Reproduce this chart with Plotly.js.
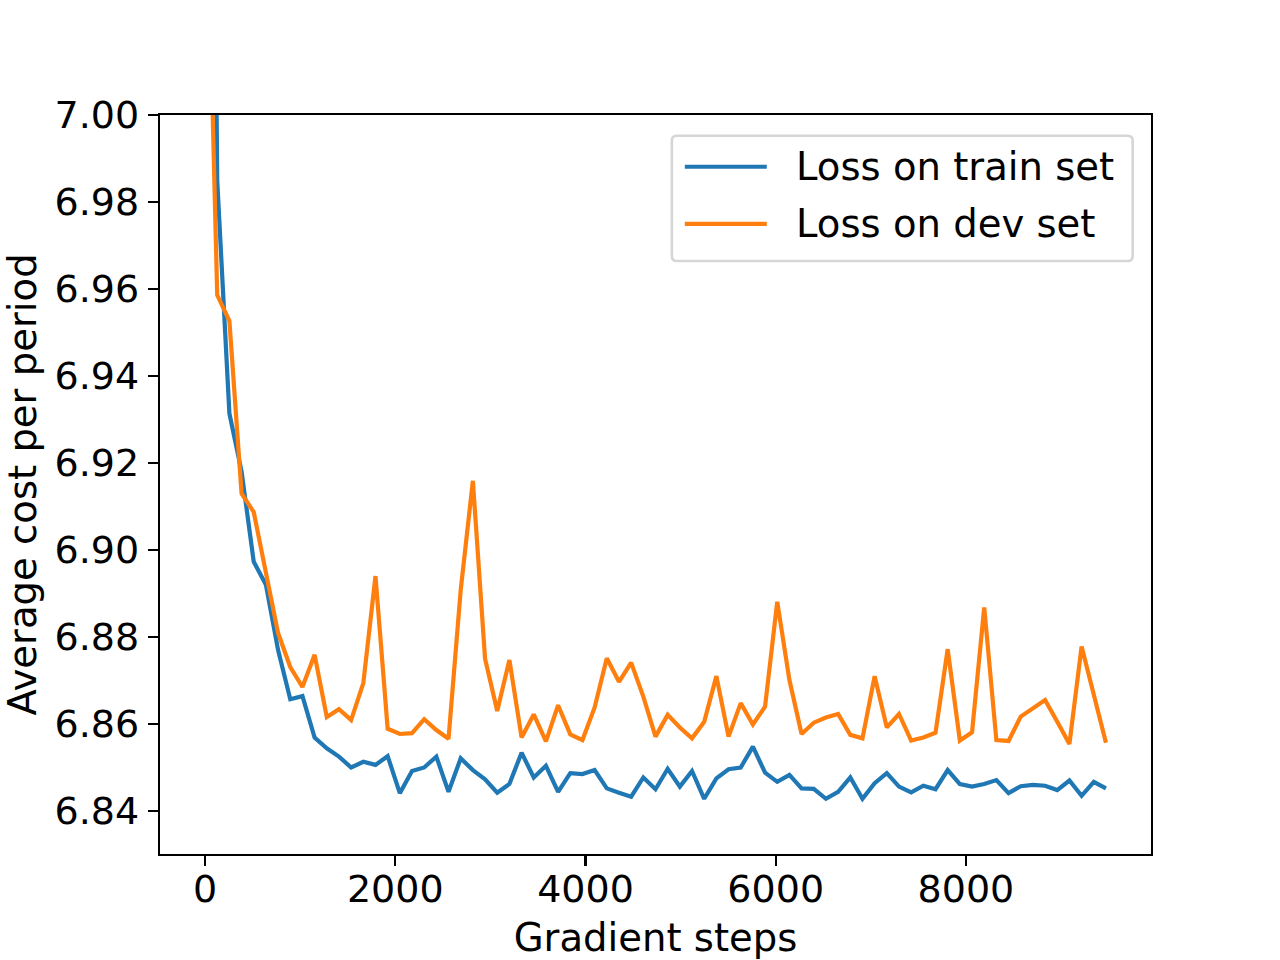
<!DOCTYPE html>
<html>
<head>
<meta charset="utf-8">
<script src="https://cdn.plot.ly/plotly-3.0.1.min.js"></script>
<style>
  html, body { margin: 0; padding: 0; background: #fff; }
  #plot { width: 1280px; height: 960px; }
</style>
</head>
<body>
<div id="plot"></div>
<script>
/* ── data: one point every 128 gradient steps ── */

const STEP_SIZE = 128;

const trainLoss = [
  7.300, 6.985, 6.9314, 6.9180, 6.8973, 6.8920, 6.8770, 6.8657, 6.8664, 6.8569,
  6.8544, 6.8525, 6.8500, 6.8513, 6.8506, 6.8526, 6.8441, 6.8492, 6.8500, 6.8525,
  6.8444, 6.8521, 6.8494, 6.8473, 6.8442, 6.8462, 6.8534, 6.8477, 6.8504, 6.8444,
  6.8487, 6.8485, 6.8494, 6.8452, 6.8442, 6.8433, 6.8477, 6.8450, 6.8497, 6.8456,
  6.8492, 6.8428, 6.8475, 6.8496, 6.8500, 6.8548, 6.8488, 6.8467, 6.8483, 6.8452,
  6.8451, 6.8428, 6.8444, 6.8477, 6.8428, 6.8464, 6.8487, 6.8456, 6.8443, 6.8458,
  6.8450, 6.8494, 6.8462, 6.8456, 6.8462, 6.8471, 6.8441, 6.8457, 6.8460, 6.8458,
  6.8448, 6.8470, 6.8435, 6.8467, 6.8452,
];

const devLoss = [
  7.070, 6.9586, 6.9527, 6.9130, 6.9087, 6.8950, 6.8809, 6.8731, 6.8685, 6.8759,
  6.8616, 6.8634, 6.8609, 6.8694, 6.8940, 6.8589, 6.8577, 6.8579, 6.8611, 6.8586,
  6.8566, 6.8908, 6.9159, 6.8750, 6.8630, 6.8747, 6.8569, 6.8622, 6.8560, 6.8643,
  6.8576, 6.8563, 6.8638, 6.8751, 6.8697, 6.8741, 6.8663, 6.8571, 6.8621, 6.8592,
  6.8567, 6.8605, 6.8710, 6.8571, 6.8648, 6.8599, 6.8640, 6.8881, 6.8701, 6.8577,
  6.8603, 6.8615, 6.8623, 6.8575, 6.8567, 6.8710, 6.8592, 6.8623, 6.8562, 6.8569,
  6.8580, 6.8772, 6.8562, 6.8581, 6.8868, 6.8563, 6.8561, 6.8617, 6.8636, 6.8655,
  6.8605, 6.8554, 6.8778, 6.8667, 6.8557,
];

const seriesNames = ['Loss on train set', 'Loss on dev set'];
const xTickVals = [0, 2000, 4000, 6000, 8000];
const yTickVals = [6.84, 6.86, 6.88, 6.90, 6.92, 6.94, 6.96, 6.98, 7.00];

const steps = trainLoss.map((_, i) => i * STEP_SIZE);

/* ── style ── */

const BLUE   = '#1f77b4';
const ORANGE = '#ff7f0e';
const FONT   = { family: 'DejaVu Sans, sans-serif', size: 38, color: '#000' };
const BIG    = { ...FONT, size: 38.6 };

const traces = [
  {
    x: steps, y: trainLoss, mode: 'lines', name: seriesNames[0],
    line: { color: BLUE, width: 4.2 },
  },
  {
    x: steps, y: devLoss, mode: 'lines', name: seriesNames[1],
    line: { color: ORANGE, width: 4.2 },
  },
];

const axisCommon = {
  showline: true,
  linecolor: '#000',
  linewidth: 2.2,
  mirror: true,
  showgrid: false,
  zeroline: false,
  ticks: 'outside',
  ticklen: 10,
  tickwidth: 2.2,
  tickcolor: '#000',
  tickfont: FONT,
};

/* ── hand-made legend, matplotlib style (rounded grey box) ── */

const LG = { x0: 0.5165, x1: 0.9815, y0: 0.8024, y1: 0.972, rx: 0.005, ry: 0.0068 };
const legendPath = [
  `M${LG.x0 + LG.rx},${LG.y1}`,
  `L${LG.x1 - LG.rx},${LG.y1}`,
  `Q${LG.x1},${LG.y1} ${LG.x1},${LG.y1 - LG.ry}`,
  `L${LG.x1},${LG.y0 + LG.ry}`,
  `Q${LG.x1},${LG.y0} ${LG.x1 - LG.rx},${LG.y0}`,
  `L${LG.x0 + LG.rx},${LG.y0}`,
  `Q${LG.x0},${LG.y0} ${LG.x0},${LG.y0 + LG.ry}`,
  `L${LG.x0},${LG.y1 - LG.ry}`,
  `Q${LG.x0},${LG.y1} ${LG.x0 + LG.rx},${LG.y1}`,
  'Z',
].join(' ');

const legendRowsY = [0.930, 0.8527];
const legendColors = [BLUE, ORANGE];

const shapes = [
  {
    type: 'path', xref: 'paper', yref: 'paper', path: legendPath,
    fillcolor: 'rgba(255,255,255,0.8)', line: { color: '#d6d6d6', width: 2.6 },
  },
  ...legendRowsY.map((y, i) => ({
    type: 'line', xref: 'paper', yref: 'paper',
    x0: 0.5296, x1: 0.6123, y0: y, y1: y,
    line: { color: legendColors[i], width: 4.2 },
  })),
];

const annotations = legendRowsY.map((y, i) => ({
  xref: 'paper', yref: 'paper', x: 0.6396, y: y,
  xanchor: 'left', yanchor: 'middle',
  text: seriesNames[i], showarrow: false, font: BIG,
}));

const layout = {
  width: 1280,
  height: 960,
  margin: { l: 160, r: 129, t: 115, b: 106, pad: 0 },
  paper_bgcolor: '#fff',
  plot_bgcolor: '#fff',
  font: FONT,
  showlegend: false,
  xaxis: {
    ...axisCommon,
    range: [-473.6, 9945.6],
    tickvals: xTickVals,
    ticktext: xTickVals.map(String),
    ticklabelstandoff: -10,
    title: { text: 'Gradient steps', font: BIG, standoff: 24 },
  },
  yaxis: {
    ...axisCommon,
    range: [6.83011, 7.0],
    tickvals: yTickVals,
    ticktext: yTickVals.map(v => v.toFixed(2)),
    ticklabelstandoff: 1,
    title: { text: 'Average cost per period', font: BIG, standoff: 19 },
  },
  shapes: shapes,
  annotations: annotations,
};

Plotly.newPlot('plot', traces, layout, { displayModeBar: false, staticPlot: true });
</script>
</body>
</html>
